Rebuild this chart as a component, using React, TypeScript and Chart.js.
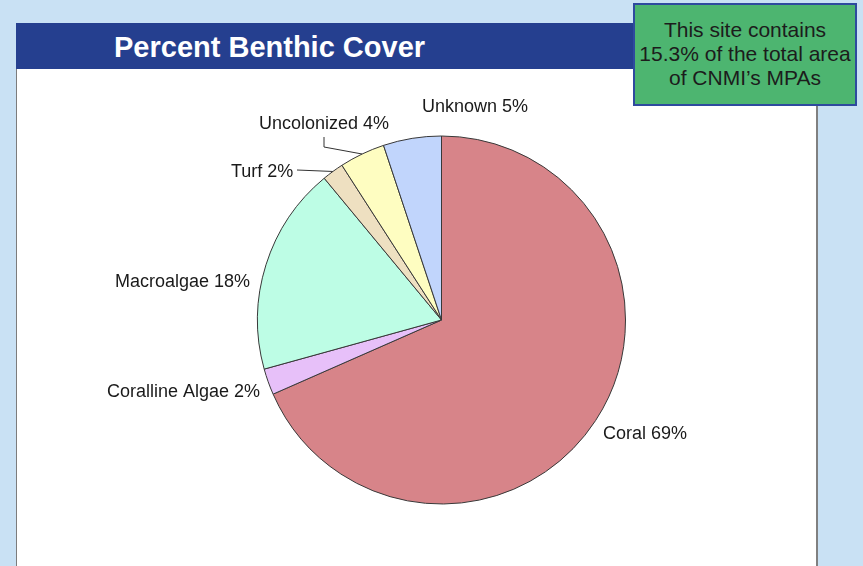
import React, { useEffect, useRef } from "react";
import { Chart, registerables } from "chart.js";

Chart.register(...registerables);

// ---- Data ----
const categories = ["Coral", "Coralline Algae", "Macroalgae", "Turf", "Uncolonized", "Unknown"];
const values = [68.4, 2.3, 18.3, 1.9, 4.0, 5.1];
const labelTexts = ["Coral 69%", "Coralline Algae 2%", "Macroalgae 18%", "Turf 2%", "Uncolonized 4%", "Unknown 5%"];
const sliceColors = ["#d78489", "#e7c0f9", "#bdfde5", "#eee0c1", "#fefdc1", "#c1d5fc"];

// ---- Label layout (hand-placed annotation positions: left x, baseline y, leader bends) ----
const LABEL_LAYOUT: { x: number; y: number; leader?: number[][] }[] = [
  { x: 603, y: 439 },
  { x: 107, y: 397 },
  { x: 115, y: 287 },
  { x: 231, y: 177, leader: [[297, 170]] },
  { x: 259, y: 129, leader: [[324, 137], [324, 147]] },
  { x: 422, y: 112 },
];

const FONT = "'Liberation Sans', Arial, Helvetica, sans-serif";

const labelPlugin = {
  id: "sliceLabels",
  afterDraw(chart: any) {
    const ctx = chart.ctx;
    const meta = chart.getDatasetMeta(0);
    ctx.save();
    meta.data.forEach((arc: any, i: number) => {
      const p = arc.getProps(["x", "y", "startAngle", "endAngle", "outerRadius"], true);
      const mid = (p.startAngle + p.endAngle) / 2;
      const ex = p.x + Math.cos(mid) * p.outerRadius;
      const ey = p.y + Math.sin(mid) * p.outerRadius;
      const lay = LABEL_LAYOUT[i];
      if (lay.leader) {
        ctx.beginPath();
        ctx.strokeStyle = "#333";
        ctx.lineWidth = 1;
        ctx.moveTo(lay.leader[0][0], lay.leader[0][1]);
        for (let k = 1; k < lay.leader.length; k++) ctx.lineTo(lay.leader[k][0], lay.leader[k][1]);
        ctx.lineTo(ex, ey);
        ctx.stroke();
      }
      ctx.fillStyle = "#1a1a1a";
      ctx.font = `18px ${FONT}`;
      ctx.textAlign = "left";
      ctx.textBaseline = "alphabetic";
      ctx.fillText(labelTexts[i], lay.x, lay.y);
    });
    ctx.restore();
  },
};

export default function App() {
  const canvasRef = useRef<HTMLCanvasElement | null>(null);

  useEffect(() => {
    if (!canvasRef.current) return;
    const chart = new Chart(canvasRef.current, {
      type: "pie",
      data: {
        labels: categories,
        datasets: [
          {
            data: values,
            backgroundColor: sliceColors,
            borderColor: "#383838",
            borderWidth: 1,
            hoverOffset: 0,
          },
        ],
      },
      options: {
        responsive: false,
        animation: false,
        devicePixelRatio: 1,
        layout: { padding: { left: 257, right: 237, top: 135, bottom: 61 } },
        plugins: {
          legend: { display: false },
          tooltip: { enabled: false },
          title: { display: false },
        },
        events: [],
      },
      plugins: [labelPlugin],
    });
    return () => chart.destroy();
  }, []);

  return (
    <div
      style={{
        position: "fixed",
        left: 0,
        top: 0,
        width: 863,
        height: 566,
        background: "#c9e1f4",
        overflow: "hidden",
        fontFamily: FONT,
      }}
    >
      {/* white panel */}
      <div style={{ position: "absolute", left: 17, top: 23, width: 799, height: 543, background: "#ffffff" }} />
      {/* panel borders */}
      <div style={{ position: "absolute", left: 16, top: 69, width: 1, height: 497, background: "#7c7c7c" }} />
      <div style={{ position: "absolute", left: 816, top: 69, width: 2, height: 497, background: "#808080" }} />
      {/* header bar */}
      <div style={{ position: "absolute", left: 16, top: 23, width: 802, height: 46, background: "#253f8f" }} />
      <div
        style={{
          position: "absolute",
          left: 114,
          top: 33,
          fontSize: 29,
          lineHeight: "29px",
          fontWeight: "bold",
          color: "#ffffff",
          whiteSpace: "nowrap",
        }}
      >
        Percent Benthic Cover
      </div>
      <canvas
        ref={canvasRef}
        width={863}
        height={566}
        style={{ position: "absolute", left: 0, top: 0, width: 863, height: 566 }}
      />
      {/* green note box */}
      <div
        style={{
          position: "absolute",
          left: 633,
          top: 3,
          width: 224,
          height: 103,
          boxSizing: "border-box",
          background: "#4db570",
          border: "2px solid #2e4a9e",
        }}
      />
      <div
        style={{
          position: "absolute",
          left: 633,
          top: 18,
          width: 224,
          textAlign: "center",
          fontSize: 21,
          lineHeight: "24px",
          color: "#1c1c1c",
          whiteSpace: "nowrap",
        }}
      >
        This site contains
        <br />
        15.3% of the total area
        <br />
        of CNMI’s MPAs
      </div>
    </div>
  );
}
